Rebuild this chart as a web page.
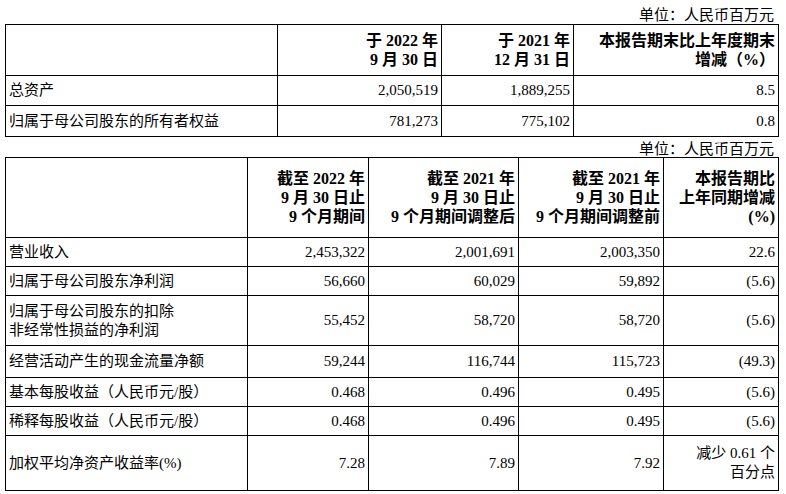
<!DOCTYPE html>
<html><head><meta charset="utf-8">
<script src="https://cdn.jsdelivr.net/npm/chart.js@4"></script>
<style>
body{margin:0;width:786px;height:494px;background:#fff;font-family:"Liberation Serif","Noto Sans CJK SC",serif;font-size:15px;color:#000;position:relative}
table{position:absolute;left:5px;border-collapse:collapse;table-layout:fixed}
td{border:1px solid #000;padding:0 3px;line-height:19px;vertical-align:middle}
.r{text-align:right}.b{font-weight:bold;font-size:16px}
.u{position:absolute;right:12px;font-size:15px}
</style></head><body>
<div class="u" style="top:3px">单位：人民币百万元</div>
<table id="t1" style="top:24px;width:773px"></table>
<div class="u" style="top:137px">单位：人民币百万元</div>
<table id="t2" style="top:157px;width:773px"></table>
<script>
const headers1 = ["", "于 2022 年<br>9 月 30 日", "于 2021 年<br>12 月 31 日", "本报告期末比上年度期末<br>增减（%）"];
const rows1 = ["总资产", "归属于母公司股东的所有者权益"];
const vals1 = [["2,050,519","1,889,255","8.5"],["781,273","775,102","0.8"]];
const headers2 = ["", "截至 2022 年<br>9 月 30 日止<br>9 个月期间", "截至 2021 年<br>9 月 30 日止<br>9 个月期间调整后", "截至 2021 年<br>9 月 30 日止<br>9 个月期间调整前", "本报告期比<br>上年同期增减<br>(%)"];
const rows2 = ["营业收入","归属于母公司股东净利润","归属于母公司股东的扣除<br>非经常性损益的净利润","经营活动产生的现金流量净额","基本每股收益（人民币元/股）","稀释每股收益（人民币元/股）","加权平均净资产收益率(%)"];
const vals2 = [["2,453,322","2,001,691","2,003,350","22.6"],["56,660","60,029","59,892","(5.6)"],["55,452","58,720","58,720","(5.6)"],["59,244","116,744","115,723","(49.3)"],["0.468","0.496","0.495","(5.6)"],["0.468","0.496","0.495","(5.6)"],["7.28","7.89","7.92","减少 0.61 个<br>百分点"]];
function build(id, widths, heads, rows, vals, hh, rh){
  const t=document.getElementById(id);
  let h='<colgroup>'+widths.map(w=>`<col style="width:${w}px">`).join('')+'</colgroup>';
  h+=`<tr style="height:${hh}px">`+heads.map(x=>`<td class="r b">${x}</td>`).join('')+'</tr>';
  rows.forEach((r,i)=>{h+=`<tr style="height:${rh[i]}px"><td>${r}</td>`+vals[i].map(v=>`<td class="r">${v}</td>`).join('')+'</tr>';});
  t.innerHTML=h;
}
build('t1',[272,164,132,205],headers1,rows1,vals1,51,[30,31]);
build('t2',[242,121,150,145,115],headers2,rows2,vals2,80,[29,29,50,32,29,29,55]);
</script>
</body></html>
